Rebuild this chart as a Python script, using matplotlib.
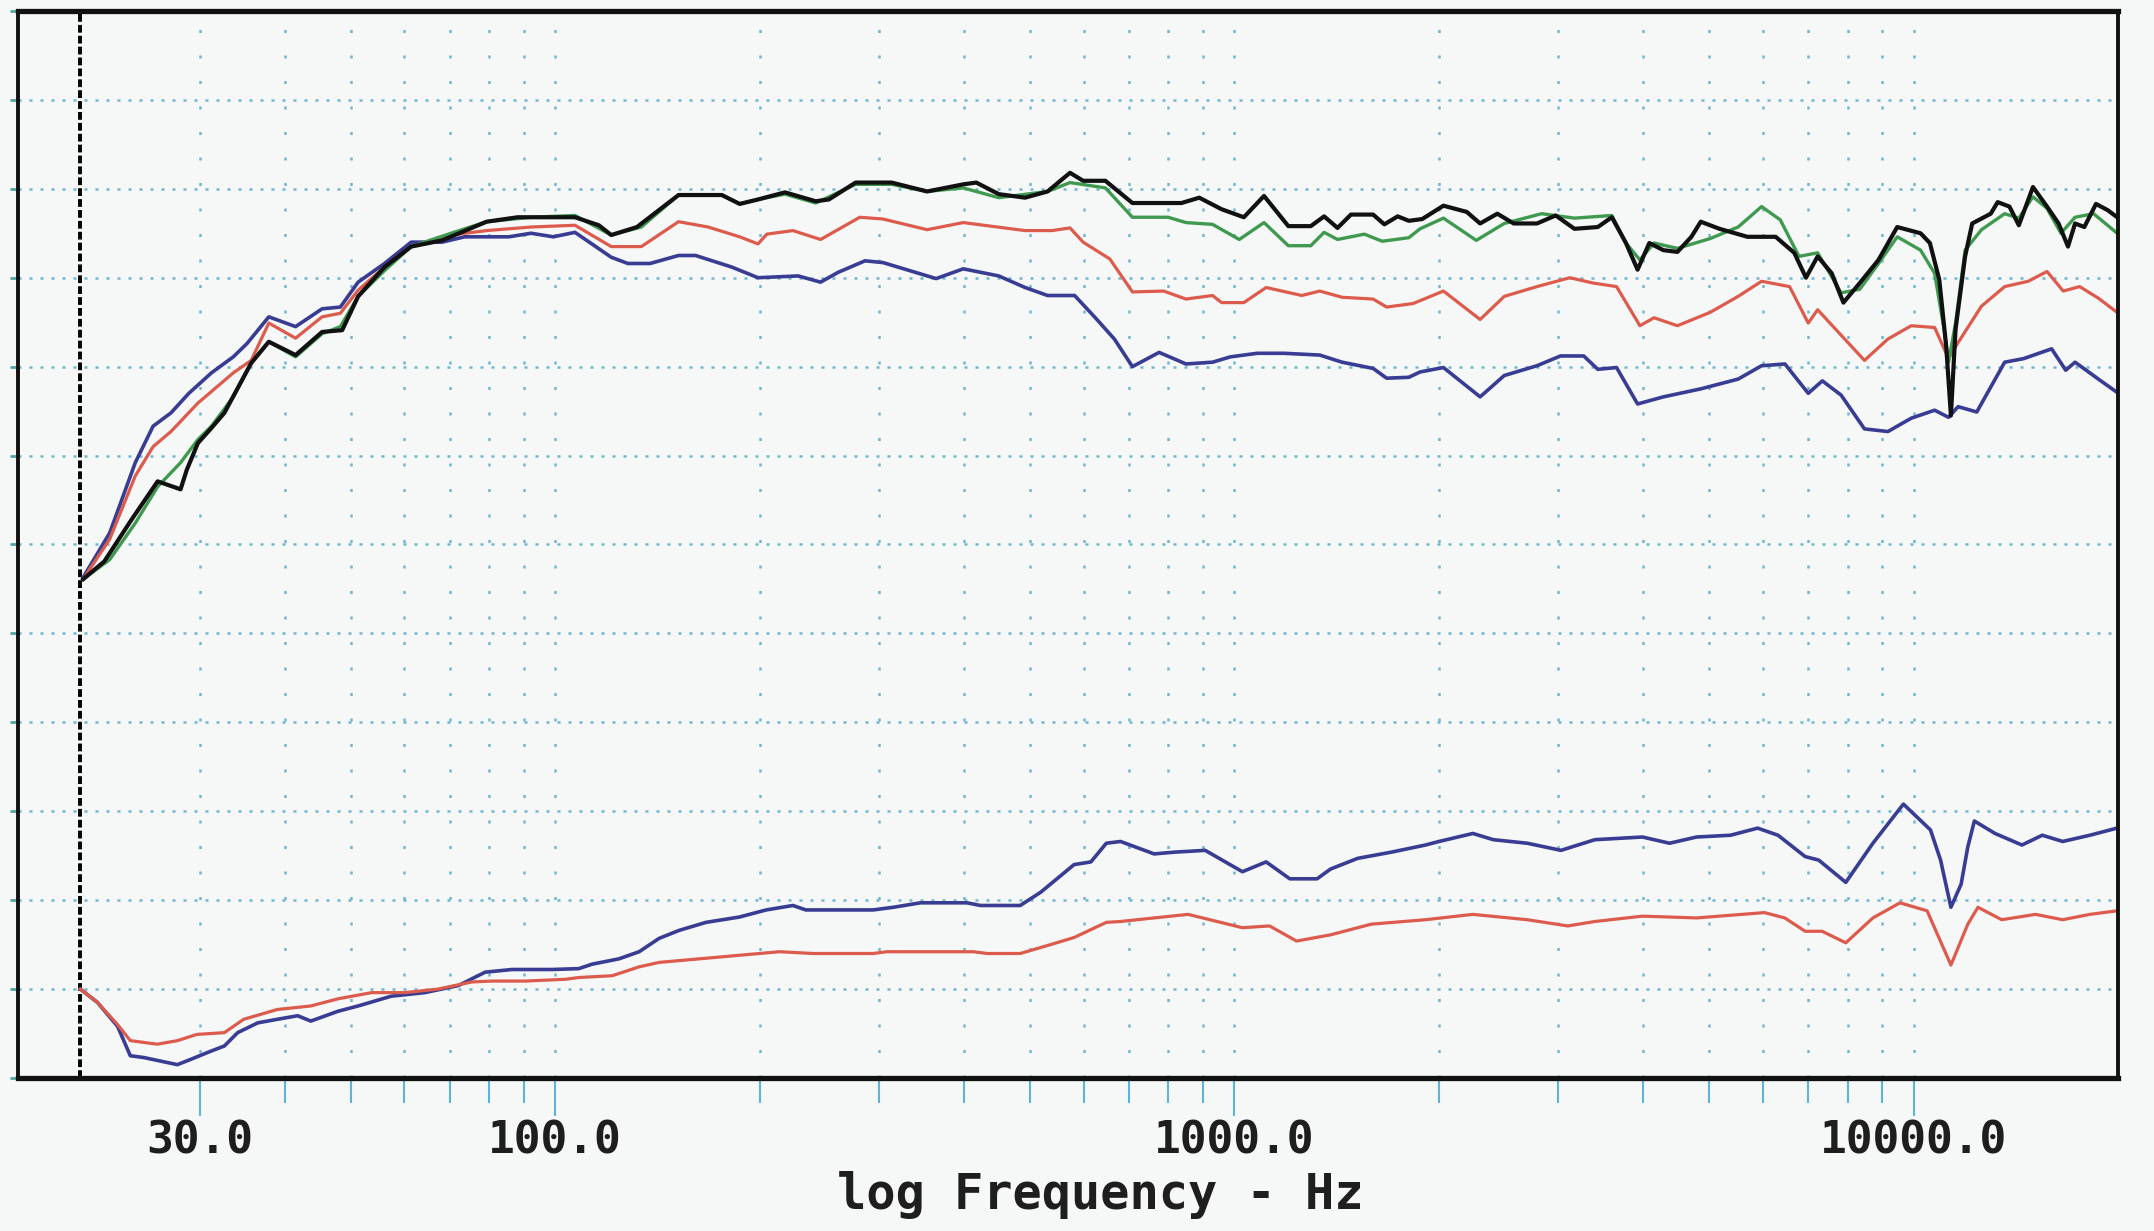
import numpy as np
import matplotlib.pyplot as plt
from matplotlib.ticker import FixedLocator, NullFormatter

# Level is read in grid divisions (bottom = 0, top = 12), frequency in Hz

# upper group
blue_f = [20.2, 22.1, 24.1, 25.6, 27.2, 28.9, 31.2, 33.6, 35.2, 37.9, 41.5, 45.4, 48.3, 51.3, 56.1,
          61.4, 68.2, 73.6, 85.5, 92.2, 99.4, 107, 121, 128, 138, 152, 161, 182,
          199, 228, 246, 261, 286, 304, 364, 399, 450, 492, 531, 582, 626, 666, 708, 775, 849,
          929, 987, 1081, 1183, 1336, 1441, 1601, 1676, 1807,
          1877, 2032, 2301, 2497, 2790, 3021, 3269, 3429, 3654, 3924, 4282, 4861, 5518, 5974,
          6466, 6998, 7340, 7822, 8467, 9166, 9922, 10740, 11260, 11630, 12390, 13620, 14520,
          15970, 16750, 17290, 18710, 19940]
blue_db = [5.63, 6.13, 6.92, 7.33, 7.48, 7.70, 7.93, 8.11, 8.26, 8.56, 8.45, 8.65, 8.67, 8.95, 9.16,
           9.40, 9.40, 9.46, 9.46, 9.50, 9.46, 9.51, 9.23, 9.16, 9.16, 9.25, 9.25, 9.12,
           9.00, 9.02, 8.95, 9.06, 9.19, 9.17, 8.99, 9.10, 9.02, 8.89, 8.80, 8.80, 8.54, 8.31, 8.00,
           8.16, 8.03, 8.05, 8.11, 8.15, 8.15, 8.13, 8.05, 7.98, 7.87, 7.88,
           7.94, 7.99, 7.66, 7.90, 8.01, 8.12, 8.12, 7.97, 7.99, 7.58, 7.66, 7.75, 7.86, 8.01,
           8.03, 7.70, 7.84, 7.68, 7.30, 7.27, 7.42, 7.51, 7.43, 7.55, 7.49, 8.05, 8.09,
           8.20, 7.96, 8.05, 7.86, 7.71]

red_f = [20.2, 22.1, 24.1, 25.6, 27.2, 29.8, 33.6, 35.7, 37.9, 41.5, 45.4, 48.3, 51.3, 56.1, 61.4,
         70.3, 79.3, 92.2, 107, 121, 134, 152, 168, 187,
         199, 205, 224, 246, 281, 304, 353, 399, 492, 539, 573, 599, 656, 708, 787, 849, 929,
         958, 1033, 1114, 1257, 1336, 1441, 1601, 1676, 1834,
         2032, 2301, 2497, 2790, 3118, 3375, 3654, 3955, 4149, 4491, 5017, 5518, 5974, 6569,
         6998, 7224, 8467, 9166, 9922, 10740, 11260, 11630, 12590, 13620, 14750, 15720, 16610,
         17560, 18710, 19940]
red_db = [5.61, 6.06, 6.77, 7.10, 7.27, 7.59, 7.93, 8.07, 8.49, 8.32, 8.56, 8.60, 8.86, 9.12, 9.35,
          9.48, 9.53, 9.57, 9.59, 9.35, 9.35, 9.63, 9.57, 9.46,
          9.38, 9.49, 9.53, 9.43, 9.68, 9.66, 9.54, 9.62, 9.53, 9.53, 9.56, 9.40, 9.21, 8.84, 8.85,
          8.76, 8.80, 8.72, 8.72, 8.89, 8.80, 8.85, 8.78, 8.76, 8.67, 8.71,
          8.85, 8.53, 8.79, 8.90, 9.00, 8.94, 8.90, 8.46, 8.55, 8.46, 8.61, 8.79, 8.96, 8.90,
          8.49, 8.64, 8.07, 8.31, 8.46, 8.44, 8.09, 8.27, 8.68, 8.90, 8.96, 9.07, 8.85,
          8.90, 8.77, 8.61]

green_f = [20.2, 22.1, 24.1, 26.0, 28.1, 29.8, 31.2, 33.6, 35.7, 37.9, 41.5, 45.4, 48.3, 51.3, 56.1,
           61.4, 70.3, 79.3, 92.2, 107, 121, 134, 152, 176, 187,
           199, 218, 242, 277, 313, 353, 399, 450, 531, 573, 646, 708, 799, 849, 929, 1017, 1106,
           1201, 1296, 1356, 1419, 1554, 1651, 1807,
           1877, 2032, 2271, 2497, 2835, 3168, 3596, 3772, 3955, 4149, 4491, 5017, 5518, 5974,
           6366, 6781, 7224, 7822, 8333, 8879, 9461, 10240, 10740, 11090, 11260, 11530, 11910,
           12590, 13620, 14290, 14990, 15720, 16480, 17290, 18410, 19940]
green_db = [5.61, 5.83, 6.24, 6.65, 6.92, 7.18, 7.33, 7.66, 8.04, 8.28, 8.11, 8.37, 8.45, 8.79, 9.08,
            9.35, 9.50, 9.63, 9.68, 9.70, 9.48, 9.57, 9.93, 9.93, 9.83,
            9.88, 9.94, 9.84, 10.05, 10.05, 9.97, 10.01, 9.90, 9.97, 10.07, 10.01, 9.68, 9.68, 9.62,
            9.60, 9.43, 9.62, 9.36, 9.36, 9.51, 9.43, 9.49, 9.41, 9.45,
            9.55, 9.67, 9.42, 9.61, 9.72, 9.67, 9.70, 9.39, 9.20, 9.39, 9.33, 9.44, 9.57, 9.80,
            9.65, 9.24, 9.28, 8.83, 8.87, 9.16, 9.46, 9.31, 9.05, 8.42, 8.05, 8.49, 9.31,
            9.54, 9.72, 9.67, 9.91, 9.78, 9.50, 9.68, 9.72, 9.50]

black_f = [20.2, 21.7, 23.8, 26.0, 28.1, 28.7, 29.8, 31.2, 32.6, 35.7, 37.9, 41.5, 45.4, 48.6, 51.3,
           56.1, 61.4, 68.2, 79.3, 88.1, 96.5, 107, 116, 121, 132, 152, 176, 187,
           199, 218, 242, 253, 277, 313, 353, 399, 417, 450, 492, 531, 573, 599, 646, 708, 836,
           888, 958, 1033, 1106, 1201, 1296, 1356, 1419, 1485, 1601, 1663, 1740, 1807, 1891,
           2032, 2199, 2301, 2439, 2578, 2790, 2973, 3168, 3429, 3596, 3772, 3924, 4083, 4282,
           4491, 4709, 4861, 5179, 5694, 6266, 6674, 6944, 7224, 7577, 7884, 8333, 8879, 9461,
           10240, 10570, 10910, 11170, 11350, 11530, 11910, 12200, 12990, 13300, 13840, 14290,
           14990, 15720, 16350, 16880, 17290, 17840, 18560, 19310, 19940]
black_db = [5.61, 5.81, 6.28, 6.71, 6.62, 6.84, 7.14, 7.31, 7.48, 8.04, 8.28, 8.13, 8.39, 8.41, 8.79,
            9.12, 9.35, 9.42, 9.63, 9.68, 9.68, 9.68, 9.59, 9.48, 9.57, 9.93, 9.93, 9.83,
            9.88, 9.96, 9.86, 9.88, 10.07, 10.07, 9.97, 10.05, 10.07, 9.94, 9.90, 9.97, 10.18,
            10.09, 10.09, 9.84, 9.84, 9.90, 9.77, 9.68, 9.92, 9.58, 9.58, 9.69, 9.56, 9.71, 9.71,
            9.60, 9.69, 9.64, 9.66,
            9.81, 9.74, 9.61, 9.72, 9.61, 9.61, 9.70, 9.55, 9.57, 9.68, 9.39, 9.09, 9.39, 9.31,
            9.29, 9.46, 9.63, 9.55, 9.46, 9.46, 9.28, 9.00, 9.24, 9.05, 8.72, 8.94, 9.20, 9.57,
            9.50, 9.39, 8.98, 8.23, 7.45, 8.42, 9.24, 9.61, 9.72, 9.85, 9.80, 9.59,
            10.02, 9.80, 9.61, 9.35, 9.61, 9.57, 9.83, 9.76, 9.68]

# lower group
low_blue_f = [20.0, 21.2, 22.7, 23.7, 24.8, 27.8, 29.1, 31.1, 32.6, 34.1, 36.5, 39.0, 41.8, 43.7,
              47.9, 51.3, 57.4, 64.3, 72.1, 78.9, 86.4, 99.0, 108.4, 113.4, 124.2, 133.0, 142.3,
              152.3, 166.8, 186.8, 204.6, 224, 234, 294, 315, 345, 404, 423, 484, 519, 581, 615, 648,
              680, 762, 817, 906, 1028, 1114, 1207, 1324, 1386, 1519, 1704, 1912, 2002, 2245, 2406,
              2699, 3027, 3395, 3989, 4373, 4793, 5377, 5895, 6316, 6925, 7252, 7948, 8713, 9661,
              10590, 10960, 11350, 11750, 12020, 12290, 13180, 14440, 15470, 16580, 18180, 19930]
low_blue_db = [1.00, 0.85, 0.58, 0.25, 0.23, 0.15, 0.21, 0.30, 0.36, 0.51, 0.62, 0.66, 0.70, 0.64,
               0.75, 0.81, 0.92, 0.96, 1.04, 1.19, 1.22, 1.22, 1.23, 1.28, 1.34, 1.42, 1.57,
               1.66, 1.75, 1.81, 1.89, 1.94, 1.89, 1.89, 1.92, 1.97, 1.97, 1.94, 1.94, 2.09, 2.40,
               2.43, 2.64,
               2.66, 2.52, 2.54, 2.56, 2.32, 2.43, 2.24, 2.24, 2.35, 2.47, 2.54, 2.62, 2.66, 2.75,
               2.68, 2.64, 2.56, 2.68, 2.71, 2.64, 2.71, 2.73, 2.81, 2.73, 2.49, 2.45, 2.20, 2.64,
               3.08, 2.79, 2.45, 1.92, 2.18, 2.60, 2.89, 2.75, 2.62, 2.73, 2.66, 2.73, 2.81]

low_red_f = [20.0, 21.2, 22.7, 23.7, 25.96, 27.8, 29.7, 32.6, 34.8, 39.0, 43.7, 47.9, 53.7, 60.1,
             67.3, 75.4, 80.7, 90.4, 103.6, 108.4, 121.4, 133.0, 142.3, 163.1, 186.8, 214, 240,
             294, 308, 413, 433, 484, 531, 581, 648,
             680, 762, 855, 1028, 1127, 1235, 1386, 1591, 1912, 2245, 2699, 3097, 3395, 3989,
             4793, 6032, 6463, 6925, 7336, 7948, 8713, 9550, 10470, 11350, 12020, 12440, 13480,
             15120, 16580, 18180, 19930]
low_red_db = [1.00, 0.85, 0.60, 0.42, 0.38, 0.42, 0.49, 0.51, 0.66, 0.77, 0.81, 0.89, 0.96, 0.96,
              1.00, 1.08, 1.09, 1.09, 1.11, 1.13, 1.15, 1.25, 1.30, 1.34, 1.38, 1.42, 1.40,
              1.40, 1.42, 1.42, 1.40, 1.40, 1.49, 1.58, 1.75,
              1.76, 1.80, 1.84, 1.69, 1.71, 1.54, 1.61, 1.73, 1.78, 1.84, 1.78, 1.71, 1.76, 1.82,
              1.80, 1.86, 1.80, 1.65, 1.65, 1.52, 1.80, 1.97, 1.88, 1.27, 1.73, 1.92, 1.78,
              1.84, 1.78, 1.84, 1.88]

major_ticks = [30, 100, 1000, 10000]
major_labels = ['30.0', '100.0', '1000.0', '10000.0']
minor_ticks = [40, 50, 60, 70, 80, 90, 200, 300, 400, 500, 600, 700, 800, 900,
               2000, 3000, 4000, 5000, 6000, 7000, 8000, 9000]

bg = '#f6f7f7'
grid_col = '#72b6d0'
tick_col = '#5fb3d8'
mono = 'DejaVu Sans Mono'

fig = plt.figure(figsize=(21.54, 12.31), dpi=100, facecolor=bg)
ax = fig.add_axes([0.0084, 0.1243, 0.9749, 0.8668], facecolor=bg)

ax.set_xscale('log')
ax.set_xlim(16.2, 20000)
ax.set_ylim(0, 12)

# grid
ax.set_yticks(range(0, 13))
ax.yaxis.set_major_formatter(NullFormatter())
ax.grid(axis='y', which='major', color=grid_col, linestyle=(0, (1.2, 3.2)), linewidth=1.8)
ax.xaxis.set_major_locator(FixedLocator(major_ticks))
ax.xaxis.set_minor_locator(FixedLocator(minor_ticks))
ax.set_xticklabels(major_labels)
ax.xaxis.set_minor_formatter(NullFormatter())
ax.grid(axis='x', which='both', color=grid_col, linestyle=(0, (1.2, 9)), linewidth=1.8)
ax.set_axisbelow(True)

ax.tick_params(axis='x', which='major', length=27, width=1.5, color=tick_col, pad=3,
               labelsize=32)
ax.tick_params(axis='x', which='minor', length=18, width=1.5, color=tick_col)
ax.tick_params(axis='y', which='major', length=6, width=2, color='#4fa7a7', left=True)
for lab in ax.get_xticklabels():
    lab.set_family(mono)
    lab.set_weight('bold')
    lab.set_color('#1e1e1e')

# 20 Hz marker
ax.axvline(20, color='black', linestyle=(0, (2, 0.8)), linewidth=2.8)

# curves
ax.plot(blue_f, blue_db, color='#383c92', linewidth=2.6)
ax.plot(red_f, red_db, color='#dc5b4c', linewidth=2.3)
ax.plot(green_f, green_db, color='#3f9a50', linewidth=2.4)
ax.plot(black_f, black_db, color='#111111', linewidth=3.0)
ax.plot(low_blue_f, low_blue_db, color='#383c92', linewidth=2.6)
ax.plot(low_red_f, low_red_db, color='#dc5b4c', linewidth=2.3)

for side in ['left', 'right', 'top', 'bottom']:
    ax.spines[side].set_color('#111111')
    ax.spines[side].set_linewidth(2.8)
ax.spines['bottom'].set_linewidth(3.8)
ax.spines['top'].set_linewidth(3.8)

fig.text(0.511, 0.029, 'log Frequency - Hz', ha='center', va='center',
         fontsize=35, fontweight='bold', family=mono, color='#1e1e1e')

plt.savefig('out.png', dpi=100, facecolor=bg)
